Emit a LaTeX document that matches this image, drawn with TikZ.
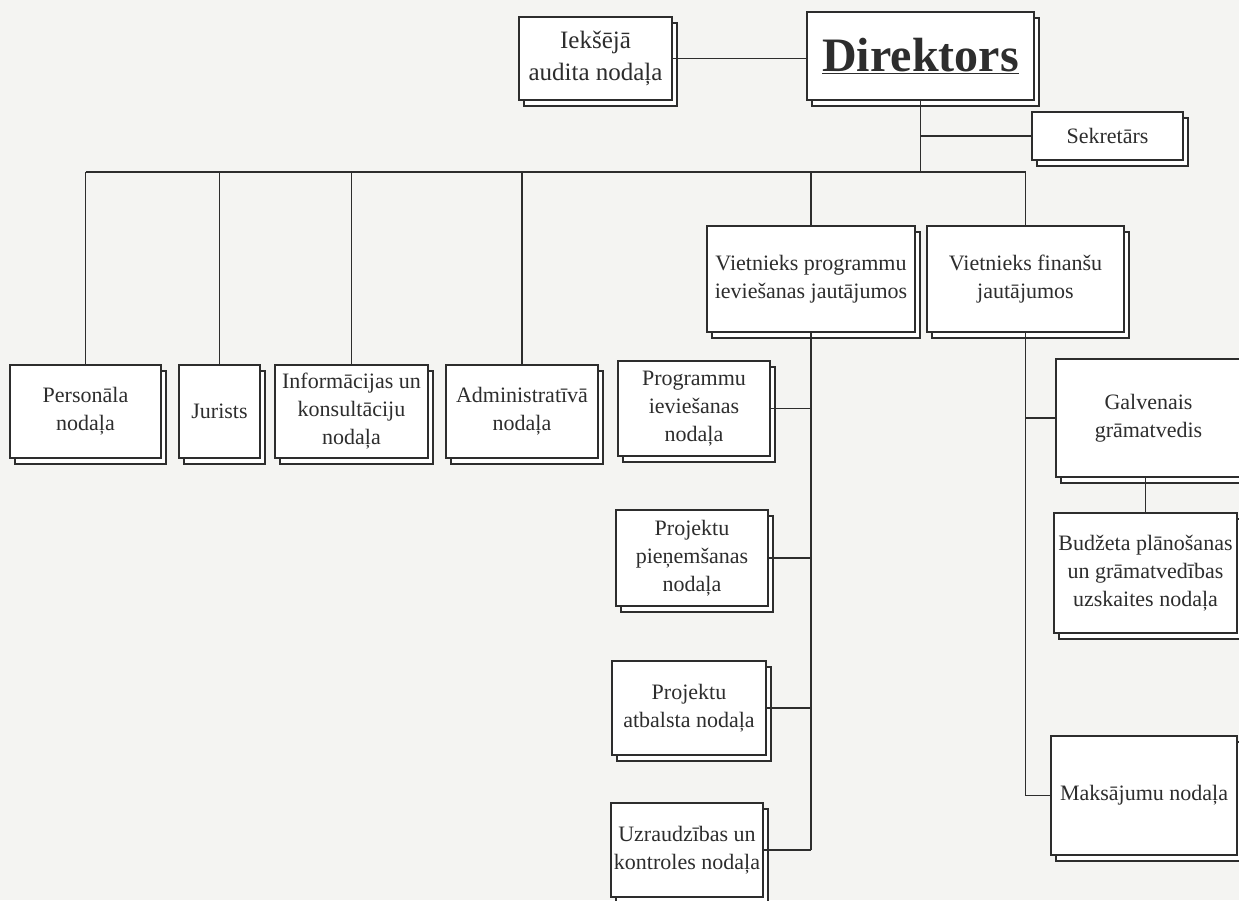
\documentclass[tikz,border=0pt]{standalone}
\usepackage{fontspec}
\setmainfont{Liberation Serif}
\usepackage{tikz}
\usetikzlibrary{shadows}
\definecolor{papirs}{RGB}{244,244,242}
\definecolor{tinte}{RGB}{45,45,45}

\begin{document}
\begin{tikzpicture}[x=1pt,y=-1pt,
		vieniba/.style={draw=tinte, text=tinte, fill=white, line width=1.6pt, align=center, inner sep=1pt,
			copy shadow={shadow xshift=5pt, shadow yshift=-6pt},
			font=\fontsize{22}{28}\selectfont},
		savieno/.style={draw=tinte, line width=1.6pt}]
	\useasboundingbox (0,0) rectangle (1239,900);
	\clip (0,0) rectangle (1239,900);
	\fill[papirs] (0,0) rectangle (1239,900);

	% vadiba
	\node[vieniba, minimum width=153pt, minimum height=83pt, font=\fontsize{25}{32}\selectfont] (iek) at (595.5,58.5) {Iekšējā\\audita nodaļa};
	\node[vieniba, minimum width=227pt, minimum height=88pt, font=\fontsize{48}{52}\selectfont\bfseries] (dir) at (920.5,56) {\underline{Direktors}};
	\node[vieniba, minimum width=151pt, minimum height=48pt] (sek) at (1107.5,136) {Sekretārs};

	% nodalas zem direktora
	\node[vieniba, minimum width=151pt, minimum height=93pt] (pers) at (85.5,411.5) {Personāla\\nodaļa};
	\node[vieniba, minimum width=81pt, minimum height=93pt] (jur) at (219.5,411.5) {Jurists};
	\node[vieniba, minimum width=153pt, minimum height=93pt] (info) at (351.5,411.5) {Informācijas un\\konsultāciju\\nodaļa};
	\node[vieniba, minimum width=152pt, minimum height=93pt] (admin) at (522,411.5) {Administratīvā\\nodaļa};
	\node[vieniba, minimum width=208pt, minimum height=106pt] (vprog) at (811,279) {Vietnieks programmu\\ieviešanas jautājumos};
	\node[vieniba, minimum width=197pt, minimum height=106pt] (vfin) at (1025.5,279) {Vietnieks finanšu\\jautājumos};

	% programmu vietnieks
	\node[vieniba, minimum width=152pt, minimum height=95pt] (prie) at (694,408.5) {Programmu\\ieviešanas\\nodaļa};
	\node[vieniba, minimum width=152pt, minimum height=96pt] (pps) at (692,558) {Projektu\\pieņemšanas\\nodaļa};
	\node[vieniba, minimum width=154pt, minimum height=94pt] (pat) at (689,708) {Projektu\\atbalsta nodaļa};
	\node[vieniba, minimum width=152pt, minimum height=94pt] (uzr) at (687,850) {Uzraudzības un\\kontroles nodaļa};

	% finansu vietnieks
	\node[vieniba, minimum width=185pt, minimum height=118pt] (galv) at (1148.5,418) {Galvenais\\grāmatvedis};
	\node[vieniba, minimum width=183pt, minimum height=120pt] (budz) at (1145.5,573) {Budžeta plānošanas\\un grāmatvedības\\uzskaites nodaļa};
	\node[vieniba, minimum width=186pt, minimum height=119pt] (maks) at (1144,795.5) {Maksājumu nodaļa};

	\coordinate (sad) at (920.5,172);

	\draw[savieno] (iek.east) -- (iek.east -| dir.west);
	\draw[savieno] (dir.south) -- (sad);
	\draw[savieno] (sek.west) -- (sek.west -| dir.south);
	\draw[savieno] (pers.north |- sad) -- (vfin.north |- sad);
	\foreach \n in {pers,jur,info,admin,vprog,vfin}{%
			\draw[savieno] (\n.north |- sad) -- (\n.north);
		}

	\draw[savieno] (vprog.south) -- (vprog.south |- uzr.east);
	\foreach \n in {prie,pps,pat,uzr}{%
			\draw[savieno] (\n.east) -- (\n.east -| vprog.south);
		}

	\draw[savieno] (vfin.south) -- (vfin.south |- maks.west);
	\foreach \n in {galv,maks}{%
			\draw[savieno] (\n.west -| vfin.south) -- (\n.west);
		}
	\draw[savieno] (galv.south -| budz.north) -- (budz.north);
\end{tikzpicture}
\end{document}
